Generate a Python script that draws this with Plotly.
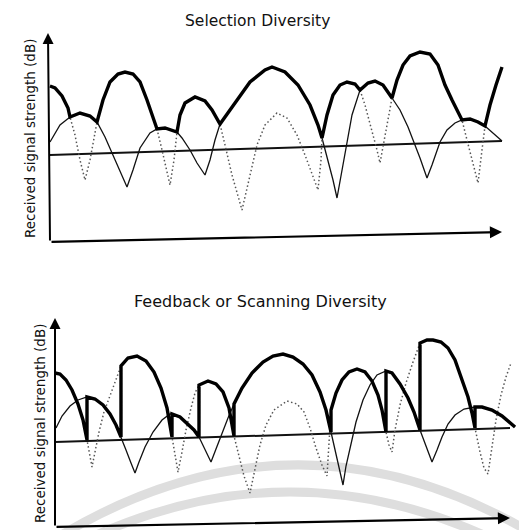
import plotly.graph_objects as go

# ---------------- Selection Diversity (top panel) ----------------
# time axis (arbitrary units) and received level (arbitrary dB units)
top_a_t = [0, 10, 20, 30, 40, 47, 55, 63, 70, 77, 83, 90, 100, 107, 115, 125, 127, 132, 140, 147,
           155, 160, 165, 170, 185, 200, 215, 222, 235, 248, 260, 268, 272, 278, 283, 287, 292, 296, 302, 310,
           318, 325, 333, 342, 350, 358, 365, 370, 377, 382, 390, 397, 405, 412, 420, 428, 435, 443, 452]
top_a_db = [100, 117, 125, 129, 126, 120, 105, 87, 70, 55, 72, 94, 109, 113, 114, 111, 110, 104, 92, 79,
            67, 82, 102, 118, 139, 160, 172, 175, 170, 157, 137, 117, 104, 82, 62, 44, 72, 97, 127, 152,
            159, 161, 157, 144, 132, 115, 97, 84, 64, 77, 100, 112, 119, 122, 123, 120, 116, 109, 101]

top_b_t = [0, 5, 12, 18, 20, 25, 30, 35, 40, 44, 47, 53, 60, 68, 75, 83, 90, 97, 103, 107,
           112, 117, 120, 124, 127, 130, 135, 145, 155, 162, 170, 175, 182, 192, 200, 207, 215, 227, 237, 247,
           255, 262, 268, 271, 272, 277, 283, 290, 297, 305, 310, 315, 322, 327, 330, 335, 340, 342, 347, 353,
           360, 370, 380, 388, 395, 402, 410, 412, 417, 422, 428, 432, 435, 440, 446, 452]
top_b_db = [156, 154, 146, 134, 125, 107, 82, 62, 82, 102, 120, 142, 160, 168, 170, 168, 160, 142, 124, 113,
            92, 72, 57, 82, 110, 127, 139, 145, 141, 132, 118, 97, 67, 32, 67, 97, 117, 129, 124, 107,
            87, 67, 52, 82, 104, 127, 147, 157, 160, 158, 152, 137, 112, 92, 79, 107, 137, 144, 162, 177,
            186, 190, 188, 177, 157, 142, 125, 122, 102, 82, 59, 92, 116, 137, 157, 175]

top_sel_start = [0, 20, 47, 107, 127, 170, 272, 310, 342, 412, 435]
top_sel_branch = ["B", "A", "B", "A", "B", "A", "B", "A", "B", "A", "B"]
top_sel_end = 452

top_thr_t = [0, 452]
top_thr_db = [87, 101]
top_xaxis_t = [0, 452]
top_xaxis_db = [0, 10]
top_yaxis_t = [0, -2]
top_yaxis_db = [0, 209]

# ---------------- Feedback or Scanning Diversity (bottom panel) ----------------
bot_a_t = [1, 7, 15, 23, 32, 40, 48, 55, 61, 66, 71, 76, 80, 84, 90, 98, 107, 115, 117, 125,
           133, 139, 144, 150, 156, 161, 167, 173, 179, 187, 197, 208, 218, 228, 238, 248, 257, 265, 271, 276,
           281, 285, 288, 291, 295, 301, 308, 315, 322, 331, 337, 345, 353, 359, 365, 371, 377, 382, 387, 393,
           400, 409, 420, 427, 437, 447, 460]
bot_a_db = [99, 111, 121, 127, 130, 128, 122, 113, 102, 90, 77, 64, 54, 65, 80, 95, 107, 113, 113, 110,
            103, 97, 90, 77, 65, 78, 94, 109, 123, 139, 154, 165, 171, 173, 170, 163, 152, 135, 117, 95,
            72, 55, 42, 61, 80, 105, 127, 142, 152, 156, 154, 143, 129, 115, 97, 80, 65, 77, 90, 103,
            112, 118, 120, 120, 117, 111, 100]

bot_b_t = [0, 5, 11, 17, 23, 28, 32, 34, 37, 40, 44, 49, 55, 61, 66, 73, 82, 91, 99, 106,
           112, 117, 120, 123, 127, 131, 136, 140, 144, 153, 161, 168, 174, 179, 184, 189, 195, 200, 205, 211,
           219, 232, 242, 249, 255, 261, 267, 272, 274, 276, 281, 287, 294, 302, 310, 317, 323, 327, 331, 334,
           337, 340, 345, 351, 358, 365, 372, 378, 386, 393, 400, 406, 413, 417, 420, 425, 429, 433, 437, 441,
           446, 451, 456]
bot_b_db = [154, 153, 147, 137, 123, 107, 87, 75, 60, 75, 95, 115, 132, 147, 161, 169, 171, 166, 155, 139,
            119, 90, 72, 55, 75, 97, 119, 134, 142, 146, 143, 135, 119, 91, 71, 51, 34, 57, 82, 102,
            117, 126, 123, 115, 99, 79, 62, 51, 82, 117, 134, 147, 155, 158, 155, 146, 132, 117, 95, 82,
            75, 97, 122, 144, 165, 184, 187, 187, 185, 179, 167, 151, 130, 114, 99, 75, 59, 53, 82, 107,
            132, 150, 164]

bot_sel_start = [0, 32, 66, 117, 144, 179, 276, 331, 365, 420]
bot_sel_branch = ["B", "A", "B", "A", "B", "A", "B", "A", "B", "A"]
bot_sel_end = 460

bot_thr_t = [0, 455]
bot_thr_db = [85, 99]
bot_xaxis_t = [0, 455]
bot_xaxis_db = [0, 9]
bot_yaxis_t = [0, 0]
bot_yaxis_db = [0, 209]

titles = ["Selection Diversity", "Feedback or Scanning Diversity"]
ylabel = "Received signal strength (dB)"

PAGE_OFF = 8              # default body margin of the html page
W, H = 527 - PAGE_OFF, 530 - PAGE_OFF
FONT = "DejaVu Sans"


def selected(ta, ya, tb, yb, starts, branches, end):
    xs, ys = [], []
    bounds = starts[1:] + [end]
    for s, e, br in zip(starts, bounds, branches):
        tt, yy = (ta, ya) if br == "A" else (tb, yb)
        for t, y in zip(tt, yy):
            if s <= t <= e:
                xs.append(t)
                ys.append(y)
    return xs, ys


def px(xp, yp):
    """page pixel -> paper fraction"""
    return (xp - PAGE_OFF) / W, 1 - (yp - PAGE_OFF) / H


fig = go.Figure()


def add_panel(xa, ya, ta, da, tb, db, starts, branches, end, thr_t, thr_db):
    fig.add_trace(go.Scatter(x=thr_t, y=thr_db, mode="lines", xaxis=xa, yaxis=ya,
                             line=dict(color="#111", width=2), hoverinfo="skip", showlegend=False))
    fig.add_trace(go.Scatter(x=ta, y=da, mode="lines", xaxis=xa, yaxis=ya,
                             line=dict(color="#111", width=1.3), hoverinfo="skip", showlegend=False))
    fig.add_trace(go.Scatter(x=tb, y=db, mode="lines", xaxis=xa, yaxis=ya,
                             line=dict(color="#555", width=1.5, dash="1.5px,2.5px"),
                             hoverinfo="skip", showlegend=False))
    sx, sy = selected(ta, da, tb, db, starts, branches, end)
    fig.add_trace(go.Scatter(x=sx, y=sy, mode="lines", xaxis=xa, yaxis=ya,
                             line=dict(color="#000", width=3.4), hoverinfo="skip", showlegend=False))


add_panel("x", "y", top_a_t, top_a_db, top_b_t, top_b_db, top_sel_start, top_sel_branch,
          top_sel_end, top_thr_t, top_thr_db)
add_panel("x2", "y2", bot_a_t, bot_a_db, bot_b_t, bot_b_db, bot_sel_start, bot_sel_branch,
          bot_sel_end, bot_thr_t, bot_thr_db)

annotations = []


def arrow(xr, yr, t, d, width):
    annotations.append(dict(x=t[1], y=d[1], ax=t[0], ay=d[0], xref=xr, yref=yr, axref=xr, ayref=yr,
                            showarrow=True, arrowhead=2, arrowsize=1.1, arrowwidth=width,
                            arrowcolor="#000", text=""))


arrow("x", "y", top_xaxis_t, top_xaxis_db, 2.2)
arrow("x", "y", top_yaxis_t, top_yaxis_db, 2.0)
arrow("x2", "y2", bot_xaxis_t, bot_xaxis_db, 2.2)
arrow("x2", "y2", bot_yaxis_t, bot_yaxis_db, 2.0)

for title, (tx, ty), size in zip(titles, [(257, 21), (260, 301)], [15.5, 16]):
    x, y = px(tx, ty)
    annotations.append(dict(text=title, x=x, y=y, xref="paper", yref="paper", showarrow=False,
                            xanchor="center", yanchor="middle",
                            font=dict(family=FONT, size=size, color="#111")))

for (lx, ly) in [(30, 139), (40, 424)]:
    x, y = px(lx, ly)
    annotations.append(dict(text=ylabel, x=x, y=y, xref="paper", yref="paper", showarrow=False,
                            textangle=-90, xanchor="center", yanchor="middle",
                            font=dict(family=FONT, size=13.5, color="#111")))

# faint watermark arcs (decorative background)
shapes = []
for p0, p1, p2 in [((45, 545), (290, 390), (535, 535)), ((75, 545), (290, 439), (505, 545))]:
    a, b, c = px(*p0), px(*p1), px(*p2)
    shapes.append(dict(type="path", xref="paper", yref="paper", layer="below",
                       path=f"M {a[0]},{a[1]} Q {b[0]},{b[1]} {c[0]},{c[1]}",
                       line=dict(color="#dedede", width=9)))

axis_common = dict(showgrid=False, zeroline=False, showticklabels=False, ticks="", showline=False,
                   fixedrange=True)
fig.update_layout(
    width=W, height=H, margin=dict(l=0, r=0, t=0, b=0),
    paper_bgcolor="white", plot_bgcolor="rgba(0,0,0,0)",
    showlegend=False,
    xaxis=dict(domain=[(40 - PAGE_OFF) / W, (520 - PAGE_OFF) / W], range=[-10, 470], anchor="y",
               **axis_common),
    yaxis=dict(domain=[1 - (250 - PAGE_OFF) / H, 1 - (20 - PAGE_OFF) / H], range=[-8, 222], anchor="x",
               **axis_common),
    xaxis2=dict(domain=[(45 - PAGE_OFF) / W, (525 - PAGE_OFF) / W], range=[-10, 470], anchor="y2",
                **axis_common),
    yaxis2=dict(domain=[0, 1 - (310 - PAGE_OFF) / H], range=[-3, 217], anchor="x2", **axis_common),
    annotations=annotations,
    shapes=shapes,
)

fig.write_html("out.html")
